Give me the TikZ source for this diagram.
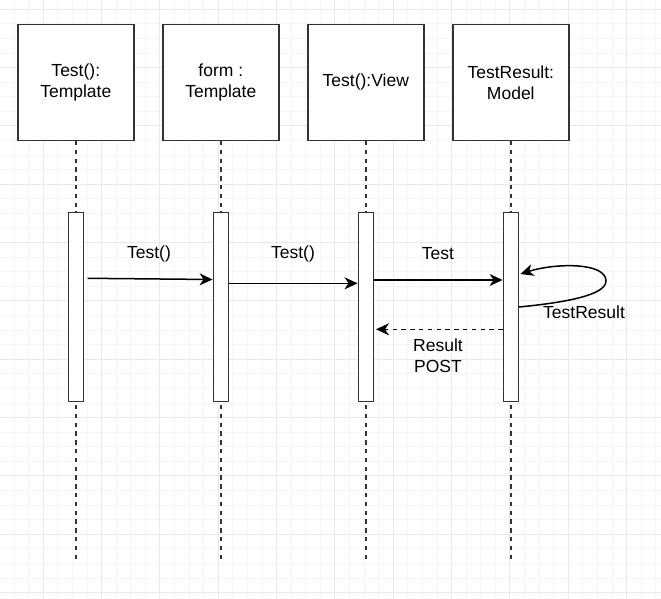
\documentclass[tikz,border=0pt]{standalone}
\usepackage{fontspec}
\setmainfont{Liberation Sans}
\usetikzlibrary{arrows.meta}
\definecolor{gridminor}{RGB}{246,246,246}
\definecolor{gridmajor}{RGB}{234,234,234}
\definecolor{edge}{RGB}{51,51,51}
\begin{document}
\begin{tikzpicture}[x=1pt,y=-1pt,
  objbox/.style={draw=edge,line width=1.5pt,fill=white,minimum width=116pt,minimum height=116pt,inner sep=0pt,align=center,font=\fontsize{17.5}{21}\selectfont},
  actbar/.style={draw=edge,line width=1.5pt,fill=white,minimum width=15pt,minimum height=189pt,inner sep=0pt},
  lifeline/.style={draw=edge,line width=1.5pt,dash pattern=on 4.4pt off 4.4pt},
  msg/.style={draw=black,line width=1.5pt,-{Stealth[length=13pt,width=12pt,inset=4pt]}},
  retmsg/.style={msg,dash pattern=on 4.4pt off 4.4pt},
  lbl/.style={font=\fontsize{17.5}{21}\selectfont,align=center,inner sep=0pt}]
\useasboundingbox (0,0) rectangle (661,599);
\fill[white] (0,0) rectangle (661,599);
% grid
\begin{scope}
\clip (0,0) rectangle (661,599);
\foreach \i in {0,...,46} \draw[gridminor,line width=1pt] ({-0.42+14.583*\i},0) -- ({-0.42+14.583*\i},599);
\foreach \i in {0,...,42} \draw[gridminor,line width=1pt] (0,{-5.28+14.583*\i}) -- (661,{-5.28+14.583*\i});
\foreach \j in {-1,...,11} \draw[gridmajor,line width=1pt] ({43.33+58.33*\j},0) -- ({43.33+58.33*\j},599);
\foreach \j in {0,...,10} \draw[gridmajor,line width=1pt] (0,{9.3+58.33*\j}) -- (661,{9.3+58.33*\j});
\end{scope}
% objects
\node[objbox] (o1) at (75.8,82.3) {Test():\\Template};
\node[objbox] (o2) at (220.8,82.3) {form :\\Template};
\node[objbox] (o3) at (365.8,82.3) {Test():View};
\node[objbox] (o4) at (510.8,82.3) {TestResult:\\Model};
% lifeline ends
\foreach \k in {1,...,4} \coordinate (e\k) at (o\k.south |- 0,561);
\foreach \k in {1,...,4} \draw[lifeline] (o\k.south) -- (e\k);
% activation bars
\node[actbar] (b1) at (75.8,307.2) {};
\node[actbar] (b2) at (220.8,307.2) {};
\node[actbar] (b3) at (365.8,307.2) {};
\node[actbar] (b4) at (510.8,307.2) {};
% message end points
\coordinate (m1s) at (87.7,278.3);
\coordinate (m1e) at (b2.west |- 0,279.5);
\coordinate (m2s) at (b2.east |- 0,283.3);
\coordinate (m2e) at (b3.west |- 0,283.3);
\coordinate (m3s) at (b3.east |- 0,280);
\coordinate (m3e) at (b4.west |- 0,280);
\coordinate (r1s) at (b4.west |- 0,329.3);
\coordinate (r1e) at (376,329.3);
\coordinate (sls) at (b4.east |- 0,307);
\coordinate (sle) at (520.5,274);
% messages
\draw[msg] (m1s) -- (m1e);
\draw[msg] (m2s) -- (m2e);
\draw[msg] (m3s) -- (m3e);
\draw[retmsg] (r1s) -- (r1e);
\draw[msg] (sls) .. controls (560,303) and (606,296) .. (606,281) .. controls (606,262) and (555,263) .. (sle);
% labels
\node[lbl] (l1) at (149,254) {Test()};
\node[lbl] (l2) at (293,254) {Test()};
\node[lbl] (l3) at (438,254) {Test};
\node[lbl] (l4) at (438,356) {Result\\POST};
\node[lbl] (l5) at (584,312.5) {TestResult};
\end{tikzpicture}
\end{document}
